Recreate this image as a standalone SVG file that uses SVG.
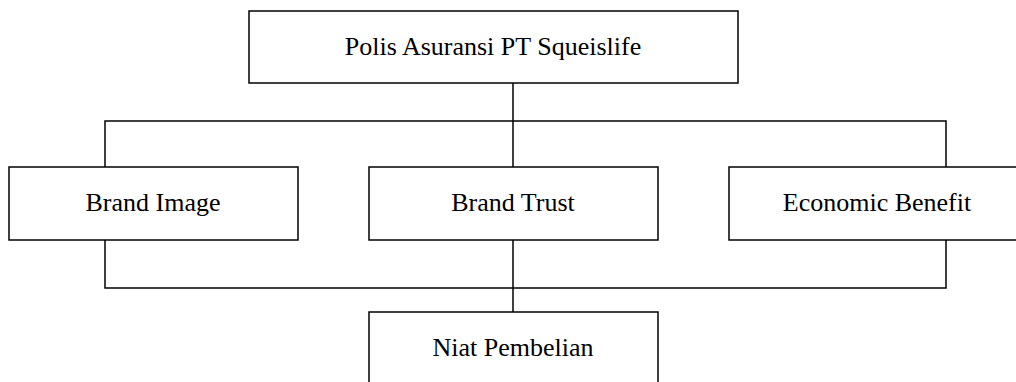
<svg xmlns="http://www.w3.org/2000/svg" width="1016" height="382" viewBox="0 0 1016 382">
  <style>
    .box { fill: #ffffff; stroke: #000000; stroke-width: 1.5; }
    .lbl { font-family: "Liberation Serif", "Times New Roman", serif; font-size: 26px; fill: #000000; text-anchor: middle; }
    .wire { fill: none; stroke: #000000; stroke-width: 1.5; }
  </style>
  <rect width="1016" height="382" fill="#ffffff"/>

  <!-- connectors -->
  <g id="connectors">
    <path class="wire" d="M513,83 V121"/>
    <path class="wire" d="M105,167 V121 H946 V167"/>
    <path class="wire" d="M513,121 V167"/>
    <path class="wire" d="M105,240 V288 H946 V240"/>
    <path class="wire" d="M513,240 V312"/>
  </g>

  <g id="polis">
    <rect class="box" x="249" y="11" width="489" height="72"/>
    <text class="lbl" x="493" y="55">Polis Asuransi PT Squeislife</text>
  </g>

  <g id="brand-image">
    <rect class="box" x="9" y="167" width="289" height="73"/>
    <text class="lbl" x="153" y="211">Brand Image</text>
  </g>

  <g id="brand-trust">
    <rect class="box" x="369" y="167" width="289" height="73"/>
    <text class="lbl" x="513" y="211">Brand Trust</text>
  </g>

  <g id="economic-benefit">
    <rect class="box" x="729" y="167" width="296" height="73"/>
    <text class="lbl" x="877" y="211">Economic Benefit</text>
  </g>

  <g id="niat-pembelian">
    <rect class="box" x="369" y="312" width="289" height="73"/>
    <text class="lbl" x="513" y="356">Niat Pembelian</text>
  </g>
</svg>
